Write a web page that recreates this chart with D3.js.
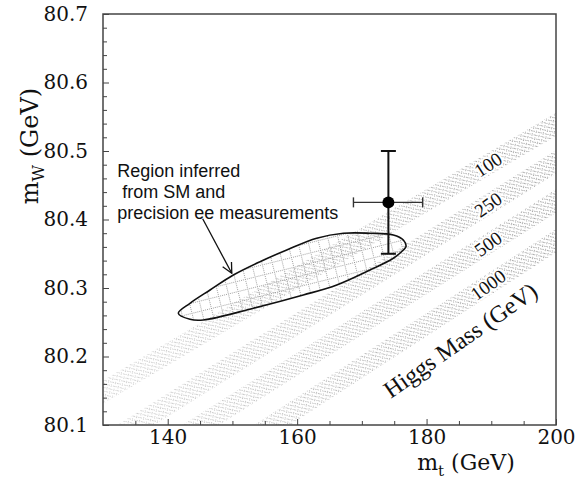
<!DOCTYPE html>
<html>
<head>
<meta charset="utf-8">
<script src="https://cdn.jsdelivr.net/npm/d3@7"></script>
<style>
  body { margin: 0; background: #fff; }
  svg { display: block; }
  .tick text { font-family: "DejaVu Serif", serif; font-size: 20px; fill: #111; }
  .tick line { stroke: #444; }
</style>
</head>
<body>
<svg id="chart" width="588" height="480"></svg>
<script>
// axis ticks
var xMajor = [140, 160, 180, 200];
var xMinor = [135, 145, 150, 155, 165, 170, 175, 185, 190, 195];
var yMajor = [80.1, 80.2, 80.3, 80.4, 80.5, 80.6, 80.7];
var yMinor = d3.range(80.12, 80.7, 0.02).filter(function(v) { return Math.abs(v * 10 - Math.round(v * 10)) > 0.01; });

// Higgs mass bands, mW at mt = 130 and mt = 200
var higgsMasses = [100, 250, 500, 1000];
var bandMwAt130 = [80.148, 80.070, 80.010, 79.940];
var bandMwAt200 = [80.539, 80.484, 80.427, 80.369];
var bandHalfWidth = 0.017;
var bandLabelMt = 189.5;

// contour of the region inferred from SM + precision ee data
var contourMt = [141.64, 143.44, 145.50, 153.23, 160.95, 166.12, 171.26, 174.86, 176.41, 176.82, 176.41, 174.86, 171.26, 167.14, 163.02, 158.39, 154.26, 150.14, 146.54, 143.44];
var contourMw = [80.2631, 80.2543, 80.2533, 80.2704, 80.2898, 80.3044, 80.3263, 80.3434, 80.3555, 80.3603, 80.3701, 80.3774, 80.3799, 80.3799, 80.3726, 80.3555, 80.3384, 80.3190, 80.2971, 80.2777];

// direct measurement
var pointMt = 174.1;
var pointMw = 80.425;
var mtRange = [168.7, 179.4];
var mwRange = [80.35, 80.50];

var noteLines = ['Region inferred', '\u00a0from SM and', 'precision ee measurements'];
var noteAt = [132.2, 80.4625];
var arrowFrom = [145.4, 80.401];
var arrowTo = [149.9, 80.3215];
var higgsTitleAt = [185.2, 80.224];

var chart = (function(d3) {

  var svg = d3.select('#chart'),
      x = d3.scaleLinear().domain([130, 200]).range([103, 556]),
      y = d3.scaleLinear().domain([80.1, 80.7]).range([425, 14]),
      defs = svg.append('defs');

  defs.append('clipPath').attr('id', 'plotclip')
    .append('rect')
      .attr('x', x(130)).attr('y', y(80.7))
      .attr('width', x(200) - x(130)).attr('height', y(80.1) - y(80.7));

  // stipple used for the Higgs bands
  var stip = defs.append('pattern')
    .attr('id', 'stipple')
    .attr('patternUnits', 'userSpaceOnUse')
    .attr('width', 5).attr('height', 5)
    .attr('patternTransform', 'rotate(-32)');
  [[0, 0], [2, 3], [4, 1], [1, 2], [3, 4]].forEach(function(p) {
    stip.append('rect').attr('x', p[0]).attr('y', p[1]).attr('width', 1).attr('height', 1).attr('fill', '#a4a4a4');
  });

  // grid hatch for the contour region
  var hatch = defs.append('pattern')
    .attr('id', 'hatch')
    .attr('patternUnits', 'userSpaceOnUse')
    .attr('width', 10).attr('height', 10)
    .attr('patternTransform', 'rotate(-14)');
  hatch.append('path')
    .attr('d', 'M0,0.5H10M0.5,0V10')
    .attr('stroke', '#8c8c8c').attr('stroke-width', 0.8)
    .attr('stroke-dasharray', '1,1').attr('fill', 'none');

  var fade = defs.append('linearGradient').attr('id', 'fade');
  fade.append('stop').attr('offset', '0%').attr('stop-color', '#fff').attr('stop-opacity', 0.5);
  fade.append('stop').attr('offset', '100%').attr('stop-color', '#fff').attr('stop-opacity', 1);
  defs.append('mask').attr('id', 'fademask')
    .attr('maskUnits', 'userSpaceOnUse')
    .attr('x', 0).attr('y', 0).attr('width', 588).attr('height', 480)
    .append('rect')
      .attr('x', x(130)).attr('y', y(80.7))
      .attr('width', x(200) - x(130)).attr('height', y(80.1) - y(80.7))
      .attr('fill', 'url(#fade)');

  var plot = svg.append('g').attr('clip-path', 'url(#plotclip)');

  // bands
  var bandArea = d3.area()
    .x(function(d) { return x(d[0]); })
    .y0(function(d) { return y(d[1] - bandHalfWidth); })
    .y1(function(d) { return y(d[1] + bandHalfWidth); });

  var bands = plot.append('g').attr('mask', 'url(#fademask)');
  higgsMasses.forEach(function(m, i) {
    bands.append('path')
      .attr('d', bandArea([[130, bandMwAt130[i]], [200, bandMwAt200[i]]]))
      .attr('fill', 'url(#stipple)');
  });

  // contour region
  var pts = contourMt.map(function(v, i) { return [x(v), y(contourMw[i])]; });
  var contour = d3.line().curve(d3.curveCatmullRomClosed.alpha(0.5));
  plot.append('path')
    .attr('d', contour(pts))
    .attr('fill', 'url(#hatch)')
    .attr('stroke', '#111').attr('stroke-width', 1.6);

  // band labels
  higgsMasses.forEach(function(m, i) {
    var slope = (bandMwAt200[i] - bandMwAt130[i]) / 70,
        mw = bandMwAt130[i] + slope * (bandLabelMt - 130),
        ang = Math.atan2(y(mw + slope) - y(mw), x(bandLabelMt + 1) - x(bandLabelMt)) * 180 / Math.PI;
    plot.append('text')
      .attr('transform', 'translate(' + x(bandLabelMt) + ',' + y(mw) + ') rotate(' + (ang - 3) + ')')
      .attr('text-anchor', 'middle')
      .attr('dy', '0.35em')
      .attr('font-family', '"Liberation Serif", serif')
      .attr('font-size', 19)
      .attr('stroke', '#fff').attr('stroke-width', 4)
      .attr('paint-order', 'stroke')
      .attr('fill', '#111')
      .text(m);
  });

  plot.append('text')
    .attr('transform', 'translate(' + x(higgsTitleAt[0]) + ',' + y(higgsTitleAt[1]) + ') rotate(-35)')
    .attr('text-anchor', 'middle')
    .attr('dy', '0.35em')
    .attr('font-family', '"Liberation Serif", serif')
    .attr('font-size', 24)
    .attr('fill', '#111')
    .text('Higgs Mass (GeV)');

  // measurement with error bars
  var err = svg.append('g').attr('stroke', '#111');
  err.append('line')
    .attr('x1', x(pointMt)).attr('x2', x(pointMt))
    .attr('y1', y(mwRange[0])).attr('y2', y(mwRange[1]))
    .attr('stroke-width', 2);
  mwRange.forEach(function(v) {
    err.append('line')
      .attr('x1', x(pointMt) - 7.5).attr('x2', x(pointMt) + 7.5)
      .attr('y1', y(v)).attr('y2', y(v))
      .attr('stroke-width', 2);
  });
  err.append('line')
    .attr('x1', x(mtRange[0])).attr('x2', x(mtRange[1]))
    .attr('y1', y(pointMw)).attr('y2', y(pointMw))
    .attr('stroke-width', 1.4).attr('stroke', '#333');
  mtRange.forEach(function(v) {
    err.append('line')
      .attr('x1', x(v)).attr('x2', x(v))
      .attr('y1', y(pointMw) - 5).attr('y2', y(pointMw) + 5)
      .attr('stroke-width', 1.4).attr('stroke', '#333');
  });
  svg.append('circle')
    .attr('cx', x(pointMt)).attr('cy', y(pointMw)).attr('r', 6)
    .attr('fill', '#000');

  // annotation + arrow
  defs.append('marker')
    .attr('id', 'arrow')
    .attr('markerUnits', 'userSpaceOnUse')
    .attr('viewBox', '0 0 12 12')
    .attr('refX', 11).attr('refY', 6)
    .attr('markerWidth', 12).attr('markerHeight', 12)
    .attr('orient', 'auto')
    .append('path')
      .attr('d', 'M1,1L11,6L1,11')
      .attr('fill', 'none').attr('stroke', '#111').attr('stroke-width', 1.3);

  svg.append('line')
    .attr('x1', x(arrowFrom[0])).attr('y1', y(arrowFrom[1]))
    .attr('x2', x(arrowTo[0])).attr('y2', y(arrowTo[1]))
    .attr('stroke', '#111').attr('stroke-width', 1.3)
    .attr('marker-end', 'url(#arrow)');

  svg.append('text')
    .attr('x', x(noteAt[0])).attr('y', y(noteAt[1]))
    .attr('font-family', '"Liberation Sans", Arial, sans-serif')
    .attr('font-size', 18)
    .attr('fill', '#111')
    .selectAll('tspan')
    .data(noteLines)
    .enter().append('tspan')
      .attr('x', x(noteAt[0]))
      .attr('dy', function(d, i) { return i ? 21 : 0; })
      .text(function(d) { return d; });

  // axes
  function axisGroup(axis, tr) {
    var g = svg.append('g').attr('transform', tr).call(axis);
    g.select('.domain').remove();
    return g;
  }
  axisGroup(d3.axisBottom(x).tickValues(xMinor).tickSize(-4).tickFormat(''), 'translate(0,' + y(80.1) + ')');
  axisGroup(d3.axisBottom(x).tickValues(xMajor).tickSize(-6).tickPadding(5).tickFormat(d3.format('d')), 'translate(0,' + y(80.1) + ')');
  axisGroup(d3.axisLeft(y).tickValues(yMinor).tickSize(-4).tickFormat(''), 'translate(' + x(130) + ',0)');
  axisGroup(d3.axisLeft(y).tickValues(yMajor).tickSize(-6).tickPadding(15).tickFormat(d3.format('.1f')), 'translate(' + x(130) + ',0)');

  svg.append('rect')
    .attr('x', x(130)).attr('y', y(80.7))
    .attr('width', x(200) - x(130)).attr('height', y(80.1) - y(80.7))
    .attr('fill', 'none').attr('stroke', '#444').attr('stroke-width', 1.5);

  // axis titles
  var xt = svg.append('text')
    .attr('x', 466).attr('y', 470)
    .attr('text-anchor', 'middle')
    .attr('font-family', '"DejaVu Serif", serif')
    .attr('font-size', 22).attr('fill', '#111');
  xt.append('tspan').text('m');
  xt.append('tspan').attr('dy', 6).attr('font-size', 15).text('t');
  xt.append('tspan').attr('dy', -6).text(' (GeV)');

  var yt = svg.append('text')
    .attr('transform', 'translate(38,146) rotate(-90)')
    .attr('text-anchor', 'middle')
    .attr('font-family', '"DejaVu Serif", serif')
    .attr('font-size', 24).attr('fill', '#111');
  yt.append('tspan').text('m');
  yt.append('tspan').attr('dy', 6).attr('font-size', 16).text('W');
  yt.append('tspan').attr('dy', -6).text(' (GeV)');

  return { x: x, y: y };
})(d3);
</script>
</body>
</html>
